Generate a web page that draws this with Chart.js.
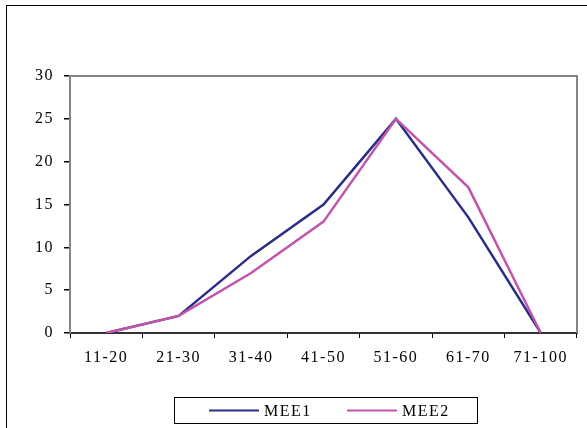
<!DOCTYPE html>
<html>
<head>
<meta charset="utf-8">
<script src="https://cdn.jsdelivr.net/npm/chart.js@4.4.1/dist/chart.umd.min.js"></script>
<style>
  html, body { margin: 0; padding: 0; background: #ffffff; }
  canvas { display: block; }
</style>
</head>
<body>
<canvas id="c" width="587" height="428"></canvas>
<script>
// Age groups on the horizontal axis
const categories = ['11-20', '21-30', '31-40', '41-50', '51-60', '61-70', '71-100'];
// Series values
const mee1 = [0, 2, 9, 15, 25, 13.5, 0];
const mee2 = [0, 2, 7, 13, 25, 17, 0];
// Value axis ticks
const yTicks = [0, 5, 10, 15, 20, 25, 30];

const FONT = { family: '"Liberation Serif", "Times New Roman", serif', size: 16 };
const SPACING = '1.5px';

// Wider glyph spacing for every text drawn on the canvas
const spacingPlugin = {
  id: 'spacing',
  beforeUpdate(chart) { chart.ctx.letterSpacing = SPACING; },
  beforeLayout(chart) { chart.ctx.letterSpacing = SPACING; },
  beforeDraw(chart) { chart.ctx.letterSpacing = SPACING; }
};

// Outer frame, plot frame and the boxed legend
const framePlugin = {
  id: 'frame',
  beforeDraw(chart) {
    const ctx = chart.ctx;
    ctx.save();
    ctx.fillStyle = '#ffffff';
    ctx.fillRect(0, 0, chart.width, chart.height);
    ctx.strokeStyle = '#000000';
    ctx.lineWidth = 1;
    ctx.strokeRect(6.5, 5.5, chart.width + 20, chart.height + 20);
    ctx.restore();
  },
  afterDraw(chart) {
    const ctx = chart.ctx;
    const a = chart.chartArea;
    ctx.save();
    // top and right edges of the plot area
    ctx.strokeStyle = '#858585';
    ctx.lineWidth = 2;
    ctx.beginPath();
    ctx.moveTo(a.left, a.top);
    ctx.lineTo(a.right, a.top);
    ctx.lineTo(a.right, a.bottom);
    ctx.stroke();

    // legend
    const bx = 174, by = 397, bw = 303, bh = 26;
    ctx.strokeStyle = '#000000';
    ctx.lineWidth = 1;
    ctx.strokeRect(bx + 0.5, by + 0.5, bw, bh);
    ctx.letterSpacing = SPACING;
    ctx.font = FONT.size + 'px ' + FONT.family;
    ctx.textBaseline = 'middle';
    ctx.textAlign = 'left';
    ctx.fillStyle = '#000000';
    const items = [{ x: 209 }, { x: 347 }];
    chart.data.datasets.forEach((ds, i) => {
      const x = items[i].x;
      const y = by + bh / 2 + 0.5;
      ctx.strokeStyle = ds.borderColor;
      ctx.lineWidth = 2;
      ctx.beginPath();
      ctx.moveTo(x, y);
      ctx.lineTo(x + 50, y);
      ctx.stroke();
      ctx.fillText(ds.label, x + 55, y + 1);
    });
    ctx.restore();
  }
};

new Chart(document.getElementById('c'), {
  type: 'line',
  data: {
    labels: categories,
    datasets: [
      {
        label: 'MEE1',
        data: mee1,
        borderColor: '#2b2d86',
        borderWidth: 2.5,
        pointRadius: 0,
        tension: 0,
        fill: false,
        order: 1
      },
      {
        label: 'MEE2',
        data: mee2,
        borderColor: '#c254aa',
        borderWidth: 2.5,
        pointRadius: 0,
        tension: 0,
        fill: false,
        order: 0
      }
    ]
  },
  options: {
    responsive: false,
    animation: false,
    layout: { padding: { left: 0, top: 76, right: 10, bottom: 0 } },
    plugins: {
      legend: { display: false },
      tooltip: { enabled: false },
      title: { display: false }
    },
    scales: {
      x: {
        type: 'category',
        offset: true,
        grid: {
          display: true,
          drawOnChartArea: false,
          offset: true,
          tickLength: 5,
          color: '#000000',
          lineWidth: 1
        },
        border: { display: true, color: '#333333', width: 2 },
        ticks: {
          color: '#000000',
          font: FONT,
          padding: 10,
          maxRotation: 0,
          autoSkip: false
        },
        afterFit(scale) { scale.height = 95; }
      },
      y: {
        min: 0,
        max: 30,
        afterBuildTicks(scale) { scale.ticks = yTicks.map(v => ({ value: v })); },
        grid: {
          display: true,
          drawOnChartArea: false,
          tickLength: 6,
          color: '#000000',
          lineWidth: 1.5
        },
        border: { display: true, color: '#858585', width: 2 },
        ticks: {
          color: '#000000',
          font: FONT,
          padding: 10
        },
        afterFit(scale) { scale.width = 70; }
      }
    }
  },
  plugins: [spacingPlugin, framePlugin]
});
</script>
</body>
</html>
